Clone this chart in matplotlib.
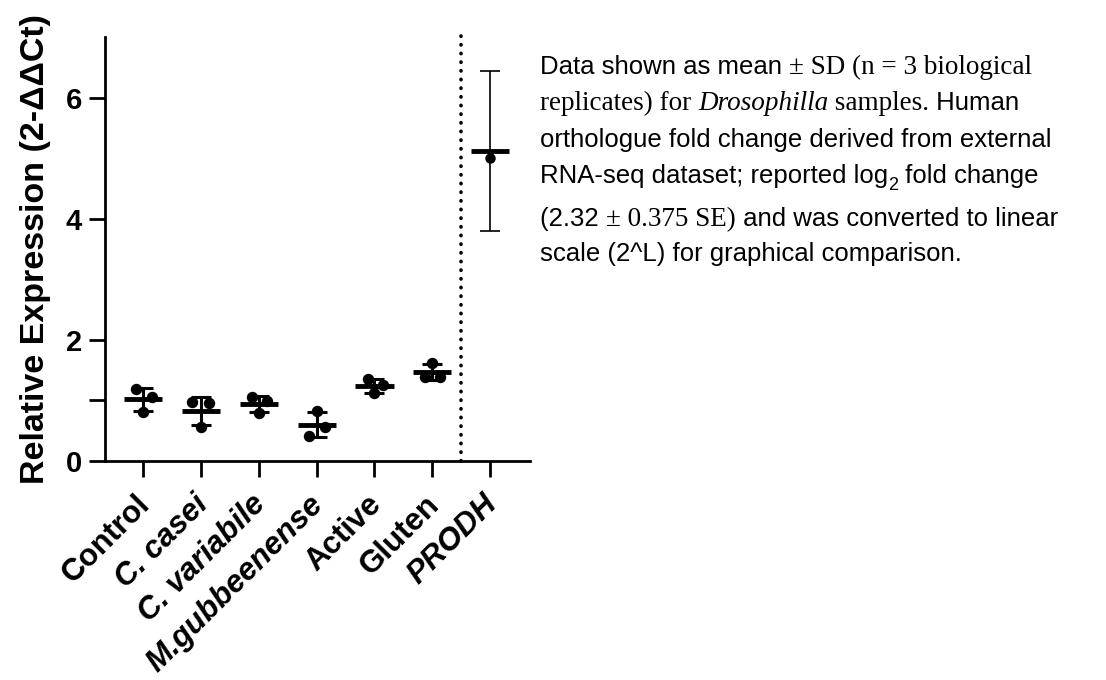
import numpy as np
import matplotlib
matplotlib.use("Agg")
import matplotlib.pyplot as plt
from matplotlib.transforms import IdentityTransform, ScaledTranslation

plt.rcParams['font.family'] = ['Liberation Sans', 'DejaVu Sans']

# ----------------------------
# DATA
# ----------------------------
groups = ["Control", "C. casei", "C. variabile", "M.gubbeenense", "Active", "Gluten"]
italic_groups = ["C. casei", "C. variabile", "M.gubbeenense", "PRODH"]

control = [1.19, 1.05, 0.81]
c_casei = [0.97, 0.96, 0.56]
c_variabile = [1.05, 0.99, 0.79]
m_gubbeenense = [0.82, 0.56, 0.41]
active = [1.35, 1.25, 1.12]
gluten = [1.62, 1.39, 1.39]
replicates = [control, c_casei, c_variabile, m_gubbeenense, active, gluten]

# horizontal scatter of the three replicates inside each column
jitter = [[-0.12, 0.16, 0.0],
          [-0.15, 0.14, 0.0],
          [-0.12, 0.15, 0.0],
          [0.0, 0.15, -0.14],
          [-0.12, 0.15, 0.0],
          [0.0, -0.12, 0.14]]

# human orthologue (converted from log2 FC 2.32 +/- 0.375 SE)
prodh_label = "PRODH"
prodh_point = 5.00
prodh_upper = 6.44
prodh_lower = 3.79

yticks = [0, 1, 2, 4, 6]
ytick_labels = ["0", "", "2", "4", "6"]

# ----------------------------
# FIGURE
# ----------------------------
fig = plt.figure(figsize=(11.06, 6.8), dpi=100)
ax = fig.add_axes([105 / 1106, 1 - 461 / 680, (530 - 105) / 1106, (461 - 37) / 680])

half_mean = 0.33
for i, vals in enumerate(replicates):
    vals = np.array(vals)
    m = vals.mean()
    sd = vals.std(ddof=1)
    ax.errorbar(i, m, yerr=sd, fmt='none', ecolor='black',
                elinewidth=2.2, capsize=7.2, capthick=2.2, zorder=2)
    ax.hlines(m, i - half_mean, i + half_mean, color='black', lw=3.5, zorder=3)
    ax.plot(i + np.array(jitter[i]), vals, 'o', color='black', ms=7.2, zorder=4)

# PRODH column
xp = len(groups)
mid = (prodh_upper + prodh_lower) / 2
ax.errorbar(xp, mid, yerr=[[mid - prodh_lower], [prodh_upper - mid]], fmt='none',
            ecolor='black', elinewidth=1.2, capsize=7.2, capthick=1.2, zorder=2)
ax.hlines(mid, xp - half_mean, xp + half_mean, color='black', lw=3.5, zorder=3)
ax.plot(xp, prodh_point, 'o', color='black', ms=6.5, zorder=4)

# separator
ax.axvline(xp - 0.5, ymin=0, ymax=1.005, color='black', lw=2.6,
           linestyle=(0, (0.1, 2.3)), dash_capstyle='round', zorder=1,
           clip_on=False)

ax.set_xlim(-0.66, 6.69)
ax.set_ylim(0, 7)

for side in ['top', 'right']:
    ax.spines[side].set_visible(False)
for side in ['left', 'bottom']:
    ax.spines[side].set_linewidth(2.0)

ax.tick_params(axis='both', length=11.5, width=2.0, pad=5)
ax.tick_params(axis='x', pad=6)

ax.set_yticks(yticks)
ax.set_yticklabels(ytick_labels, fontsize=21, fontweight='bold')
ax.set_xticks(range(len(groups) + 1))
ax.set_xticklabels(groups + [prodh_label], fontsize=22.5, fontweight='bold',
                   rotation=45, ha='right', va='top', rotation_mode='anchor')
# nudge the slanted labels a little down-left, as in the original
shift = ScaledTranslation(-0.08, -0.04, fig.dpi_scale_trans)
for lab in ax.get_xticklabels():
    if lab.get_text() in italic_groups:
        lab.set_fontstyle('italic')
    lab.set_transform(lab.get_transform() + shift)

ax.set_ylabel("Relative Expression (2-\u0394\u0394Ct)", fontsize=24.5,
              fontweight='bold', labelpad=11)

# ----------------------------
# NOTE TEXT (mixed sans / serif runs)
# ----------------------------
renderer = fig.canvas.get_renderer()
sans = {'family': 'Liberation Sans', 'size': 18.5}
serif = {'family': 'Liberation Serif', 'size': 19.5}
serif_it = {'family': 'Liberation Serif', 'size': 19.5, 'style': 'italic'}
sub = {'family': 'Liberation Sans', 'size': 13}

note = [
    [("Data shown as mean ", sans, 0), ("\u00b1 SD (n = 3 biological", serif, 0)],
    [("replicates) for ", serif, 0), ("Drosophilla", serif_it, 0),
     (" samples.", serif, 0), (" Human", sans, 0)],
    [("orthologue fold change derived from external", sans, 0)],
    [("RNA-seq dataset; reported log", sans, 0), ("2", sub, -7),
     (" fold change", sans, 0)],
    [("(2.32 ", sans, 0), ("\u00b1 0.375 SE)", serif, 0),
     (" and was converted to linear", sans, 0)],
    [("scale (2^L) for graphical comparison.", sans, 0)],
]
baselines = [74, 110, 147, 183, 226, 261]

for line, yb in zip(note, baselines):
    x = 540
    for s, props, dy in line:
        t = fig.text(x, 680 - yb + dy, s, transform=IdentityTransform(),
                     va='baseline', ha='left', **props)
        x = t.get_window_extent(renderer).x1

fig.savefig("out.png", dpi=100)
